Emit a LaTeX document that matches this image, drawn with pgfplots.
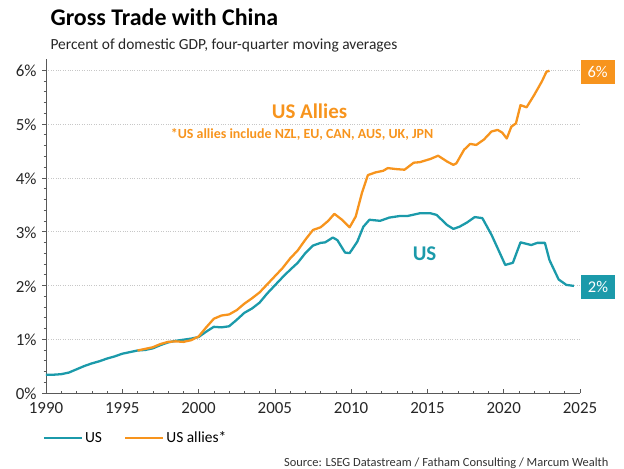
\documentclass[border=0pt]{standalone}
\usepackage{fontspec}
\setmainfont{Carlito}
\usepackage{pgfplots}
\pgfplotsset{compat=1.18}
\definecolor{usteal}{HTML}{1B9AAA}
\definecolor{allyorange}{HTML}{F7941D}
\definecolor{axgray}{HTML}{595959}
\begin{document}
\begin{tikzpicture}
\useasboundingbox (-46bp,-76bp) rectangle (578bp,393bp);
\begin{axis}[
  at={(0,0)}, anchor=south west,
  scale only axis, width=534bp, height=333.6bp,
  xmin=1990, xmax=2025, ymin=0, ymax=6.2,
  axis x line=bottom, axis y line=left,
  axis line style={-, axgray, line width=0.6pt},
  xtick={1990,1995,2000,2005,2010,2015,2020,2025},
  xticklabels={1990,1995,2000,2005,2010,2015,2020,2025},
  ytick={0,1,2,3,4,5,6},
  yticklabels={0\%,1\%,2\%,3\%,4\%,5\%,6\%},
  minor x tick num=4, minor y tick num=4,
  xtick align=inside, ytick align=outside,
  major tick length=4bp, minor tick length=2.5bp,
  tick style={axgray, line width=0.5pt},
  ticklabel style={font=\fontsize{17}{20}\selectfont, text=black!85},
  yticklabel style={xshift=-2bp, yshift=-1bp},
  xticklabel style={yshift=-6bp},
  ymajorgrids, major grid style={dotted, black!22, line width=0.5pt},
  clip=false,
  legend style={at={(-0.012,-0.135)}, anchor=west, draw=none, fill=none,
    font=\fontsize{15.5}{18}\selectfont, legend columns=2,
    /tikz/every even column/.append style={column sep=20bp}},
  legend image code/.code={\draw[#1, line width=2.3pt] (0bp,0bp) -- (38bp,0bp);},
]
\addplot[usteal, line width=2.3pt, line join=round] coordinates {
(1990,0.34) (1990.5,0.34) (1991,0.35) (1991.5,0.38) (1992,0.44) (1992.5,0.50)
(1993,0.55) (1993.5,0.59) (1994,0.64) (1994.5,0.68) (1995,0.73) (1995.5,0.76)
(1996,0.79) (1996.5,0.80) (1997,0.83) (1997.5,0.89) (1998,0.94) (1998.5,0.97)
(1999,0.99) (1999.5,1.01) (2000,1.04) (2000.5,1.14) (2001,1.23) (2001.5,1.22)
(2002,1.24) (2002.5,1.36) (2003,1.49) (2003.5,1.57) (2004,1.68) (2004.5,1.85)
(2005,2.00) (2005.5,2.15) (2006,2.29) (2006.5,2.42) (2007,2.60) (2007.5,2.74)
(2008,2.79) (2008.3,2.80) (2008.8,2.89) (2009.1,2.84) (2009.6,2.61) (2009.9,2.60)
(2010.4,2.81) (2010.8,3.09) (2011.2,3.22) (2011.9,3.20) (2012.5,3.26) (2013.2,3.29)
(2013.7,3.29) (2014.5,3.34) (2015.2,3.34) (2015.6,3.31) (2016.3,3.12) (2016.7,3.05)
(2017.1,3.09) (2017.6,3.17) (2018.1,3.27) (2018.6,3.25) (2019.2,2.94) (2019.7,2.63)
(2020.1,2.38) (2020.6,2.42) (2021.1,2.80) (2021.8,2.75) (2022.2,2.79) (2022.7,2.79)
(2023.0,2.47) (2023.6,2.11) (2024.1,2.01) (2024.6,1.99)
};
\addlegendentry{US}
\addplot[allyorange, line width=2.3pt, line join=round] coordinates {
(1996,0.79) (1996.5,0.82) (1997,0.85) (1997.5,0.91) (1998,0.95) (1998.5,0.96)
(1999,0.95) (1999.5,0.98) (2000,1.05) (2000.5,1.22) (2001,1.38) (2001.5,1.44)
(2002,1.46) (2002.5,1.54) (2003,1.66) (2003.5,1.76) (2004,1.87) (2004.5,2.02)
(2005,2.17) (2005.5,2.32) (2006,2.50) (2006.5,2.65) (2007,2.85) (2007.5,3.03)
(2008,3.08) (2008.5,3.20) (2008.9,3.33) (2009.4,3.22) (2009.9,3.08) (2010.3,3.28)
(2010.7,3.71) (2011.1,4.05) (2011.6,4.10) (2012.1,4.13) (2012.4,4.18) (2013.0,4.16)
(2013.5,4.15) (2014.1,4.28) (2014.5,4.29) (2015.2,4.35) (2015.7,4.41) (2016.3,4.30)
(2016.7,4.24) (2016.9,4.27) (2017.4,4.52) (2017.8,4.63) (2018.2,4.61) (2018.7,4.71)
(2019.2,4.86) (2019.6,4.89) (2019.9,4.84) (2020.2,4.73) (2020.5,4.95) (2020.8,5.01)
(2021.1,5.35) (2021.5,5.31) (2022.0,5.54) (2022.5,5.79) (2022.8,5.97) (2023.0,5.99)
};
\addlegendentry{US allies*}
\node[allyorange, font=\bfseries\fontsize{21}{24}\selectfont] at (axis cs:2007.27,5.24) {US Allies};
\node[allyorange, font=\bfseries\fontsize{14}{16}\selectfont] at (axis cs:2006.78,4.80) {*US allies include NZL, EU, CAN, AUS, UK, JPN};
\node[usteal, font=\bfseries\fontsize{21}{24}\selectfont] at (axis cs:2014.81,2.58) {US};
\node[fill=allyorange, text=white, minimum width=34bp, minimum height=24bp, inner sep=0pt, font=\fontsize{16.5}{19}\selectfont] at (axis cs:2026.15,5.97) {6\%};
\node[fill=usteal, text=white, minimum width=34bp, minimum height=24bp, inner sep=0pt, font=\fontsize{16.5}{19}\selectfont] at (axis cs:2026.18,1.97) {2\%};
\end{axis}
\node[anchor=base west, font=\bfseries\fontsize{24}{28}\selectfont] at (1bp,367.5bp) {Gross Trade with China};
\node[anchor=base west, font=\fontsize{15.5}{18}\selectfont, text=black!85] at (1bp,343bp) {Percent of domestic GDP, four-quarter moving averages};
\node[anchor=base east, font=\fontsize{12.5}{15}\selectfont, text=black!80] at (566bp,-73bp) {Source: LSEG Datastream / Fatham Consulting / Marcum Wealth};
\end{tikzpicture}
\end{document}
